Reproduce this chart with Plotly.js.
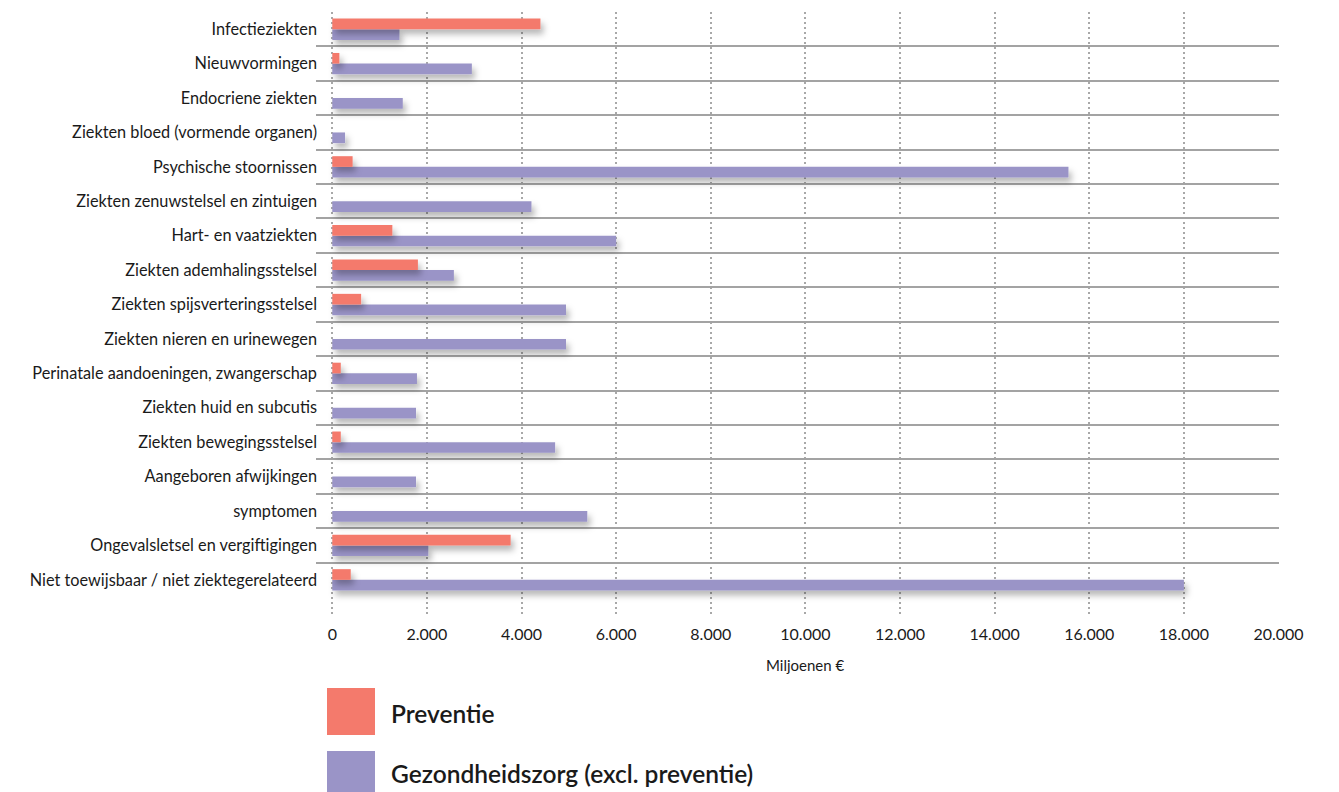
<!DOCTYPE html>
<html>
<head>
<meta charset="utf-8">
<script src="https://cdn.plot.ly/plotly-3.0.1.min.js"></script>
<style>
  html, body { margin: 0; padding: 0; background: #fff; }
  #chart { width: 1339px; height: 792px; }
</style>
</head>
<body>
<div id="chart"></div>
<script>
// ---- data ----
const categories = [
  "Infectieziekten",
  "Nieuwvormingen",
  "Endocriene ziekten",
  "Ziekten bloed (vormende organen)",
  "Psychische stoornissen",
  "Ziekten zenuwstelsel en zintuigen",
  "Hart- en vaatziekten",
  "Ziekten ademhalingsstelsel",
  "Ziekten spijsverteringsstelsel",
  "Ziekten nieren en urinewegen",
  "Perinatale aandoeningen, zwangerschap",
  "Ziekten huid en subcutis",
  "Ziekten bewegingsstelsel",
  "Aangeboren afwijkingen",
  "symptomen",
  "Ongevalsletsel en vergiftigingen",
  "Niet toewijsbaar / niet ziektegerelateerd"
];
const preventie = [4400, 150, 0, 0, 430, 0, 1270, 1810, 610, 0, 180, 0, 180, 0, 0, 3770, 390];
const gezondheidszorg = [1420, 2950, 1490, 270, 15560, 4210, 6000, 2570, 4940, 4940, 1790, 1770, 4710, 1770, 5390, 2030, 18000];
const xTickVals = [0, 2000, 4000, 6000, 8000, 10000, 12000, 14000, 16000, 18000, 20000];
const seriesNames = ["Preventie", "Gezondheidszorg (excl. preventie)"];
const axisTitle = "Miljoenen €";

// ---- style ----
const PINK = "#F47A6C";
const PURPLE = "#9A94C7";
const FONT = "Lato, 'Open Sans', sans-serif";

const W = 1339, H = 792;
const M = { l: 316, r: 60, t: 12, b: 175 };
const plotW = W - M.l - M.r, plotH = H - M.t - M.b;
const px2x = p => (p - M.l) / plotW;
const px2y = p => (H - M.b - p) / plotH;

const data = [
  {
    type: "bar", orientation: "h", name: seriesNames[0],
    y: categories, x: preventie,
    marker: { color: PINK, line: { width: 0 } },
    hoverinfo: "x+y"
  },
  {
    type: "bar", orientation: "h", name: seriesNames[1],
    y: categories, x: gezondheidszorg,
    marker: { color: PURPLE, line: { width: 0 } },
    hoverinfo: "x+y"
  }
];

const layout = {
  width: W, height: H,
  margin: M,
  paper_bgcolor: "#fff", plot_bgcolor: "#fff",
  font: { family: FONT, color: "#1a1a1a" },
  separators: ",.",
  barmode: "group", bargap: 0.38, bargroupgap: 0,
  showlegend: false,
  xaxis: {
    range: [-344, 20010],
    tickmode: "array", tickvals: xTickVals,
    tickformat: ",.0f",
    showgrid: true, gridcolor: "#a8a8a8", gridwidth: 2, griddash: "2px,3px",
    zeroline: false, showline: false, ticks: "",
    ticklabelstandoff: 6,
    tickfont: { family: FONT, size: 16, color: "#1a1a1a" },
    fixedrange: true
  },
  yaxis: {
    type: "category",
    categoryorder: "array", categoryarray: categories,
    range: [categories.length - 0.5 + 0.58, -0.5],
    tickson: "boundaries",
    showgrid: true, gridcolor: "#a3a3a3", gridwidth: 1.5,
    zeroline: false, showline: false, ticks: "",
    ticklabelstandoff: -2,
    tickfont: { family: FONT, size: 16.3, color: "#1a1a1a" },
    fixedrange: true
  },
  shapes: [
    { type: "rect", xref: "paper", yref: "paper",
      x0: px2x(327), x1: px2x(375), y0: px2y(735), y1: px2y(688),
      fillcolor: PINK, line: { width: 0 } },
    { type: "rect", xref: "paper", yref: "paper",
      x0: px2x(327), x1: px2x(375), y0: px2y(800), y1: px2y(751),
      fillcolor: PURPLE, line: { width: 0 } }
  ],
  annotations: [
    { text: axisTitle, xref: "x", yref: "paper",
      x: (xTickVals[0] + xTickVals[xTickVals.length - 1]) / 2, y: px2y(665),
      xanchor: "center", yanchor: "middle", showarrow: false,
      font: { family: FONT, size: 15, color: "#1a1a1a" } },
    { text: seriesNames[0], xref: "paper", yref: "paper",
      x: px2x(389), y: px2y(713), xanchor: "left", yanchor: "middle", showarrow: false,
      font: { family: FONT, size: 24.5, color: "#1a1a1a", weight: 600 } },
    { text: seriesNames[1], xref: "paper", yref: "paper",
      x: px2x(389), y: px2y(773), xanchor: "left", yanchor: "middle", showarrow: false,
      font: { family: FONT, size: 24.5, color: "#1a1a1a", weight: 600 } }
  ]
};

Plotly.newPlot("chart", data, layout, { displayModeBar: false, responsive: false }).then(function (gd) {
  const ns = "http://www.w3.org/2000/svg";
  const svg = gd.querySelector("svg.main-svg");
  let defs = svg.querySelector("defs");
  if (!defs) { defs = document.createElementNS(ns, "defs"); svg.insertBefore(defs, svg.firstChild); }
  const f = document.createElementNS(ns, "filter");
  f.setAttribute("id", "barShadow");
  f.setAttribute("filterUnits", "userSpaceOnUse");
  f.setAttribute("x", "-200"); f.setAttribute("y", "-200");
  f.setAttribute("width", "2000"); f.setAttribute("height", "1200");
  const ds = document.createElementNS(ns, "feDropShadow");
  ds.setAttribute("dx", "3"); ds.setAttribute("dy", "5");
  ds.setAttribute("stdDeviation", "3");
  ds.setAttribute("flood-color", "#000"); ds.setAttribute("flood-opacity", "0.28");
  f.appendChild(ds); defs.appendChild(f);
  const traces = svg.querySelectorAll(".barlayer .trace.bars");
  if (traces.length > 1) traces[0].parentNode.appendChild(traces[0]);
  svg.querySelectorAll(".barlayer .point path").forEach(function (p) {
    p.setAttribute("filter", "url(#barShadow)");
  });
});
</script>
</body>
</html>
